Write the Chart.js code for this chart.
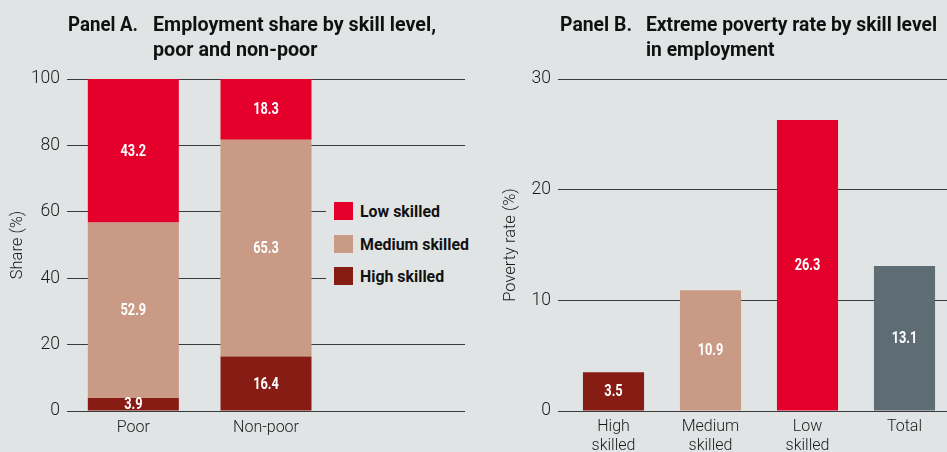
<!DOCTYPE html>
<html>
<head>
<meta charset="utf-8">
<script src="https://cdn.jsdelivr.net/npm/chart.js@4.4.1/dist/chart.umd.min.js"></script>
<style>
  html,body{margin:0;padding:0;width:947px;height:452px;overflow:hidden;background:#e1e4e5;}
  #wrap{position:relative;width:947px;height:452px;overflow:hidden;}
  canvas{position:absolute;top:0;}
  .title{position:absolute;top:12px;font-family:Roboto,"Liberation Sans",sans-serif;font-weight:bold;font-size:19.5px;line-height:25px;color:#111;white-space:nowrap;transform-origin:0 0;}
  .title span{display:inline-block;}
  #legend{position:absolute;left:326px;top:192px;width:150px;height:104px;background:#e1e4e5;}
  .li{position:absolute;left:8px;height:19px;font-family:Roboto,"Liberation Sans",sans-serif;font-weight:bold;font-size:17px;color:#111;white-space:nowrap;}
  .li .sw{position:absolute;left:0;top:0;width:19px;height:18px;}
  .li .tx{position:absolute;left:26px;top:-1px;line-height:20px;transform-origin:0 0;}
</style>
</head>
<body>
<div id="wrap">
  <canvas id="cA" width="480" height="452" style="left:0"></canvas>
  <canvas id="cB" width="480" height="452" style="left:480px"></canvas>
  <div class="title" style="left:68px" data-target="70"><span>Panel A.</span></div>
  <div class="title" style="left:153px" data-target="283"><span>Employment share by skill level,</span><br><span>poor and non-poor</span></div>
  <div class="title" style="left:560px" data-target="72"><span>Panel B.</span></div>
  <div class="title" style="left:646px" data-target="291"><span>Extreme poverty rate by skill level</span><br><span>in employment</span></div>
  <div id="legend"></div>
</div>
<script>
// ---------- Data ----------
const panelACategories = ['Poor', 'Non-poor'];
const seriesNames = ['Low skilled', 'Medium skilled', 'High skilled'];
const lowSkilledShare = [43.2, 18.3];
const mediumSkilledShare = [52.9, 65.3];
const highSkilledShare = [3.9, 16.4];
const panelATicks = [0, 20, 40, 60, 80, 100];

const panelBCategories = [['High', 'skilled'], ['Medium', 'skilled'], ['Low', 'skilled'], 'Total'];
const povertyRate = [3.5, 10.9, 26.3, 13.1];
const panelBTicks = [0, 10, 20, 30];

// ---------- Styles ----------
const COL_LOW = '#e4002b';
const COL_MED = '#c99a86';
const COL_HIGH = '#861c13';
const COL_TOTAL = '#5e6d74';
const GRID = '#3a3a3a';
const BOLDFONT = 'Roboto, "Liberation Sans", sans-serif';
const TICKFONT = 'Roboto, "Liberation Sans", sans-serif';
const CONDENSE = 0.8;

const valueLabels = {
  id: 'valueLabels',
  afterDatasetsDraw(chart) {
    const ctx = chart.ctx;
    chart.data.datasets.forEach((ds, i) => {
      const meta = chart.getDatasetMeta(i);
      meta.data.forEach((bar, j) => {
        const v = ds.data[j];
        if (v == null) return;
        const p = bar.getProps(['x', 'y', 'base'], true);
        ctx.save();
        ctx.fillStyle = '#fff';
        ctx.font = 'bold 16px ' + BOLDFONT;
        ctx.textAlign = 'center';
        ctx.textBaseline = 'middle';
        ctx.translate(p.x, (p.y + p.base) / 2 + 1);
        ctx.scale(CONDENSE, 1);
        ctx.fillText(v.toFixed(1), 0, 0);
        ctx.restore();
      });
    });
  }
};

Chart.defaults.font.family = TICKFONT;
Chart.defaults.color = '#1a1a1a';

// ---------- Panel A ----------
new Chart(document.getElementById('cA'), {
  type: 'bar',
  data: {
    labels: [...panelACategories, ''],
    datasets: [
      { label: seriesNames[2], data: highSkilledShare, backgroundColor: COL_HIGH },
      { label: seriesNames[1], data: mediumSkilledShare, backgroundColor: COL_MED },
      { label: seriesNames[0], data: lowSkilledShare, backgroundColor: COL_LOW }
    ]
  },
  options: {
    responsive: false,
    animation: false,
    layout: { padding: { top: 79, left: 0, right: 15, bottom: 0 } },
    datasets: { bar: { barPercentage: 0.686, categoryPercentage: 1 } },
    plugins: { legend: { display: false }, tooltip: { enabled: false } },
    scales: {
      x: {
        stacked: true,
        grid: { display: false, drawTicks: false },
        border: { display: false },
        ticks: { padding: 7, font: { size: 16, weight: 300 }, color: '#1a1a1a' },
        afterFit(s) { s.height = 41; }
      },
      y: {
        stacked: true,
        min: 0, max: 100,
        afterBuildTicks(s) { s.ticks = panelATicks.map(v => ({ value: v })); },
        grid: { color: GRID, lineWidth: 1, drawTicks: false },
        border: { display: false },
        ticks: { padding: 7, font: { size: 17.5, weight: 300 }, color: '#1a1a1a' },
        title: { display: true, text: 'Share (%)', padding: { top: 8, bottom: 0 }, font: { size: 16.5, weight: 300 }, color: '#1a1a1a' },
        afterFit(s) { s.width = 67; }
      }
    }
  },
  plugins: [valueLabels]
});

// ---------- Panel B ----------
new Chart(document.getElementById('cB'), {
  type: 'bar',
  data: {
    labels: panelBCategories,
    datasets: [
      { label: 'Poverty rate', data: povertyRate, backgroundColor: [COL_HIGH, COL_MED, COL_LOW, COL_TOTAL] }
    ]
  },
  options: {
    responsive: false,
    animation: false,
    layout: { padding: { top: 79, left: 0, right: 7, bottom: 0 } },
    datasets: { bar: { barPercentage: 0.63, categoryPercentage: 1 } },
    plugins: { legend: { display: false }, tooltip: { enabled: false } },
    scales: {
      x: {
        grid: { display: false, drawTicks: false },
        border: { display: false },
        ticks: { padding: 6, font: { size: 16, weight: 300, lineHeight: 1.2 }, color: '#1a1a1a', maxRotation: 0 },
        afterFit(s) { s.height = 41; }
      },
      y: {
        min: 0, max: 30,
        afterBuildTicks(s) { s.ticks = panelBTicks.map(v => ({ value: v })); },
        grid: { color: GRID, lineWidth: 1, drawTicks: true, tickLength: 7 },
        border: { display: false },
        ticks: { padding: 7, font: { size: 17.5, weight: 300 }, color: '#1a1a1a' },
        title: { display: true, text: 'Poverty rate (%)', padding: { top: 21, bottom: 0 }, font: { size: 16.5, weight: 300 }, color: '#1a1a1a' },
        afterFit(s) { s.width = 85; }
      }
    }
  },
  plugins: [valueLabels]
});

// ---------- Legend (HTML) ----------
const legendColors = [COL_LOW, COL_MED, COL_HIGH];
const legend = document.getElementById('legend');
const txs = [];
seriesNames.forEach((name, i) => {
  const d = document.createElement('div');
  d.className = 'li';
  d.style.top = (10 + i * 32.5) + 'px';
  d.innerHTML = '<span class="sw" style="background:' + legendColors[i] + '"></span><span class="tx">' + name + '</span>';
  legend.appendChild(d);
  txs.push(d.querySelector('.tx'));
});
// condense legend text so "Medium skilled" spans the same width as in the reference
const medW = txs[1].getBoundingClientRect().width;
const legScale = 109 / medW;
txs.forEach(t => { t.style.transform = 'scaleX(' + legScale + ')'; });

// condense titles to their reference widths
document.querySelectorAll('.title').forEach(t => {
  const w = t.querySelector('span').getBoundingClientRect().width;
  const target = parseFloat(t.dataset.target);
  t.style.transform = 'scaleX(' + (target / w) + ')';
});
</script>
</body>
</html>
